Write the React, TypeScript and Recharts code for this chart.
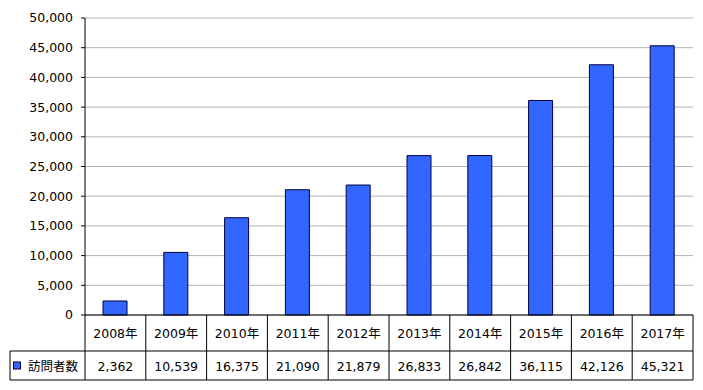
import React from 'react';
import { BarChart, Bar, XAxis, YAxis, CartesianGrid } from 'recharts';

const CATEGORIES = ['2008年', '2009年', '2010年', '2011年', '2012年', '2013年', '2014年', '2015年', '2016年', '2017年'];
const VISITORS = [2362, 10539, 16375, 21090, 21879, 26833, 26842, 36115, 42126, 45321];
const Y_TICKS = [0, 5000, 10000, 15000, 20000, 25000, 30000, 35000, 40000, 45000, 50000];
const SERIES_NAME = '訪問者数';

const data = CATEGORIES.map((c, i) => ({ year: c, visitors: VISITORS[i] }));

const W = 703;
const H = 390;
const PLOT_LEFT = 85;
const PLOT_RIGHT = 693;
const BAND = (PLOT_RIGHT - PLOT_LEFT) / CATEGORIES.length;
const ROW1 = 36;
const ROW2 = 29;
const TABLE_LEFT = 10;
const FONT = '"DejaVu Sans", Verdana, "Noto Sans CJK JP", sans-serif';
const FILL = '#3366ff';
const EDGE = '#000040';

const fmt = (v: number) => v.toLocaleString('en-US');

const TableTick = (props: any) => {
  const { x, y, payload } = props;
  const idx = CATEGORIES.indexOf(payload.value);
  const l = x - BAND / 2;
  const r = x + BAND / 2;
  const last = idx === CATEGORIES.length - 1;
  return (
    <g>
      <line x1={l} y1={y} x2={l} y2={y + ROW1 + ROW2} stroke="#000" strokeWidth={1} />
      {last && <line x1={r} y1={y} x2={r} y2={y + ROW1 + ROW2} stroke="#000" strokeWidth={1} />}
      <line x1={l} y1={y + ROW1} x2={r} y2={y + ROW1} stroke="#000" strokeWidth={1} />
      <line x1={l} y1={y + ROW1 + ROW2} x2={r} y2={y + ROW1 + ROW2} stroke="#000" strokeWidth={1} />
      <text x={x} y={y + ROW1 / 2} textAnchor="middle" dominantBaseline="central" fontSize={12.5} fontFamily={FONT} fill="#000">
        {payload.value}
      </text>
      <text x={x} y={y + ROW1 + ROW2 / 2 + 1} textAnchor="middle" dominantBaseline="central" fontSize={12.5} fontFamily={FONT} fill="#000">
        {fmt(VISITORS[idx])}
      </text>
      {idx === 0 && (
        <g>
          <line x1={TABLE_LEFT} y1={y + ROW1} x2={l} y2={y + ROW1} stroke="#000" strokeWidth={1} />
          <line x1={TABLE_LEFT} y1={y + ROW1 + ROW2} x2={l} y2={y + ROW1 + ROW2} stroke="#000" strokeWidth={1} />
          <line x1={TABLE_LEFT} y1={y + ROW1} x2={TABLE_LEFT} y2={y + ROW1 + ROW2} stroke="#000" strokeWidth={1} />
          <rect x={13.5} y={y + ROW1 + ROW2 / 2 - 3.5} width={7} height={7} fill={FILL} stroke={EDGE} strokeWidth={1} />
          <text x={28} y={y + ROW1 + ROW2 / 2 + 1} textAnchor="start" dominantBaseline="central" fontSize={12.5} fontFamily={FONT} fill="#000">
            {SERIES_NAME}
          </text>
        </g>
      )}
    </g>
  );
};

export default function App() {
  return (
    <div style={{ position: 'absolute', left: 0, top: 0, width: W, height: H, background: '#fff' }}>
      <BarChart
        width={W}
        height={H}
        data={data}
        margin={{ top: 18, right: W - PLOT_RIGHT, left: 10, bottom: 10 }}
        barSize={24}
      >
        <CartesianGrid yAxisId="y" xAxisId="x" vertical={false} stroke="#b3b3b3" />
        <XAxis
          xAxisId="x"
          dataKey="year"
          orientation="bottom"
          height={65}
          axisLine={{ stroke: '#000' }}
          tickLine={false}
          tickSize={0}
          tickMargin={0}
          interval={0}
          tick={<TableTick />}
        />
        <XAxis
          xAxisId="top"
          dataKey="year"
          orientation="top"
          height={0}
          axisLine={{ stroke: '#808080' }}
          tick={false}
          tickLine={false}
        />
        <YAxis
          yAxisId="y"
          width={75}
          domain={[0, 50000]}
          ticks={Y_TICKS}
          tickFormatter={fmt}
          axisLine={{ stroke: '#000' }}
          tickLine={{ stroke: '#000' }}
          tickSize={4}
          tickMargin={8}
          tick={{ fontSize: 12.5, fontFamily: FONT, fill: '#000' }}
          interval={0}
        />
        <YAxis
          yAxisId="right"
          orientation="right"
          width={0}
          domain={[0, 50000]}
          axisLine={{ stroke: '#808080' }}
          tick={false}
          tickLine={false}
        />
        <Bar
          xAxisId="x"
          yAxisId="y"
          dataKey="visitors"
          name={SERIES_NAME}
          fill={FILL}
          stroke={EDGE}
          strokeWidth={1}
          isAnimationActive={false}
        />
      </BarChart>
    </div>
  );
}
